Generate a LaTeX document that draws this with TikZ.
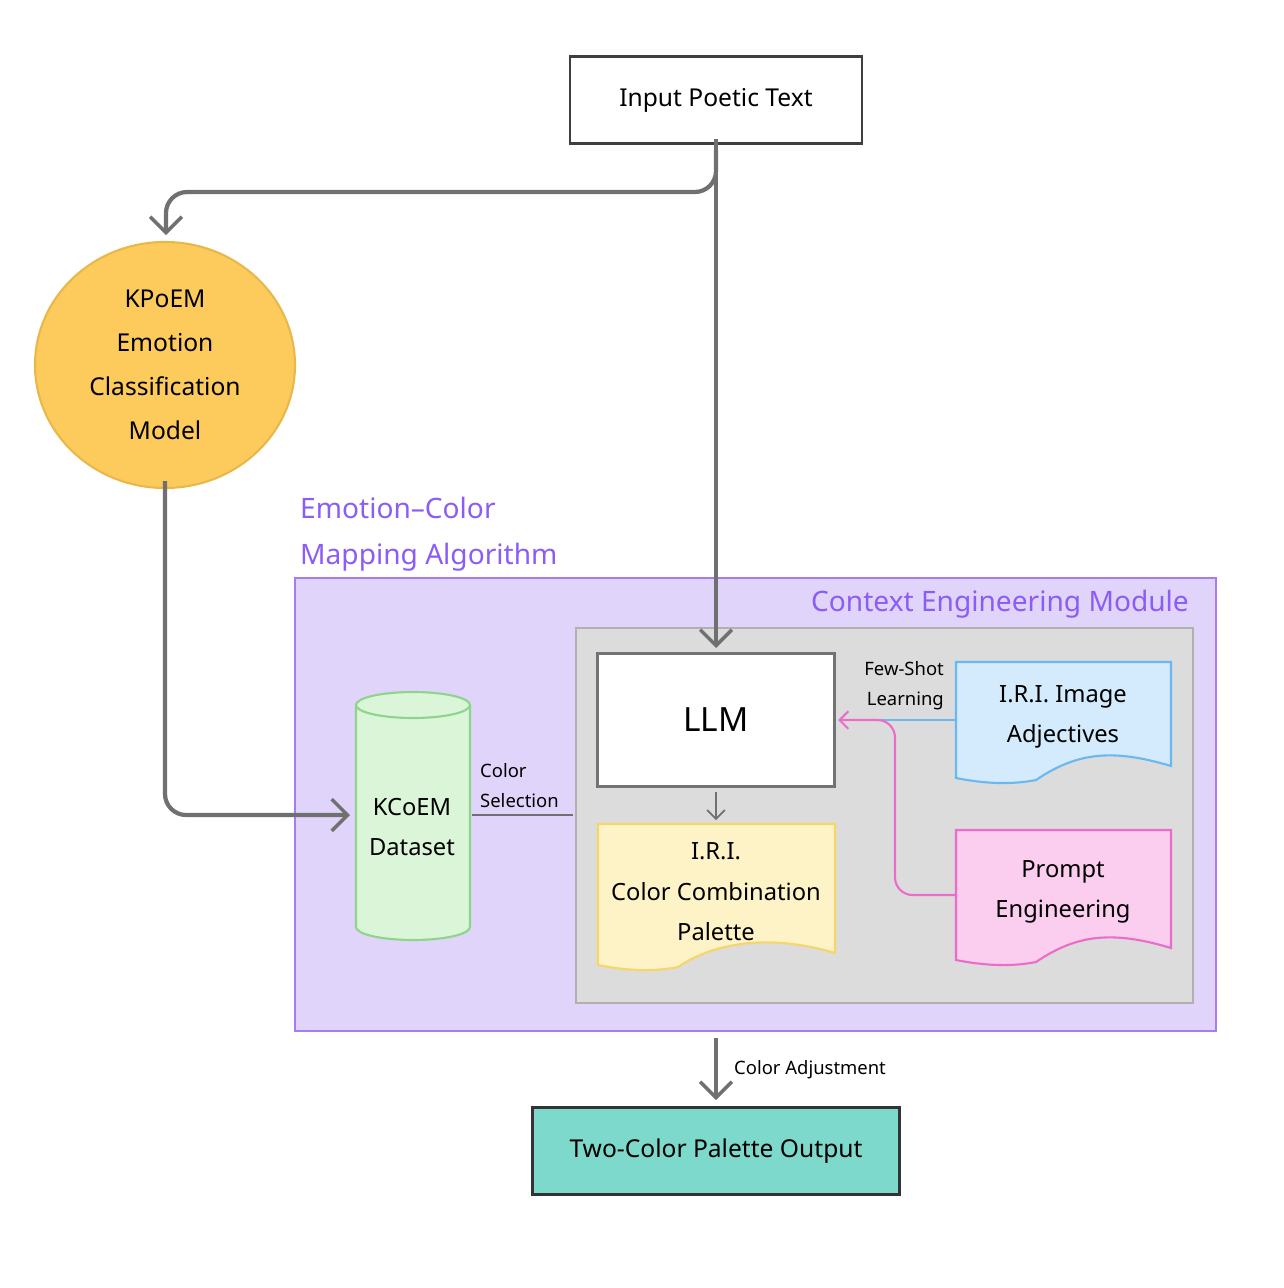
\documentclass[tikz,border=0pt]{standalone}
\usepackage{fontspec}
\setmainfont{Noto Sans}
\usetikzlibrary{arrows.meta,positioning,shapes.geometric}
\definecolor{purp}{HTML}{8B5CF6}
\definecolor{purpfill}{HTML}{E0D4FB}
\definecolor{purpline}{HTML}{A67CF0}
\definecolor{graybox}{HTML}{DCDCDC}
\definecolor{grayline}{HTML}{B0B0B0}
\definecolor{conn}{HTML}{707070}
\definecolor{yel}{HTML}{FDCB5C}
\definecolor{yelline}{HTML}{E8B84A}
\definecolor{palfill}{HTML}{FEF3C6}
\definecolor{palline}{HTML}{F5D66B}
\definecolor{bluefill}{HTML}{D3EBFD}
\definecolor{blueline}{HTML}{6BB8F0}
\definecolor{pinkfill}{HTML}{FBCDEF}
\definecolor{pinkline}{HTML}{EC6DC9}
\definecolor{grnfill}{HTML}{DAF5D8}
\definecolor{grnline}{HTML}{8FD48B}
\definecolor{teal}{HTML}{7DD9CB}
\tikzset{
  box/.style={draw=#1,line width=1.2pt,align=center},
  conline/.style={draw=conn,line width=2.4pt,rounded corners=12pt},
  bigarrow/.style={-{Straight Barb[length=9pt,width=18pt,line width=2pt]}},
  maintext/.style={font=\fontsize{14}{24}\selectfont,align=center},
  smalltext/.style={font=\fontsize{10.5}{16}\selectfont},
  titletext/.style={font=\fontsize{16}{26}\selectfont\bfseries,text=purp},
}
\newcommand\wavydoc[5]{% x1,y1,x2,y2,name
  \path[fill=#5fill,draw=#5line,line width=1.2pt]
   (#1,#2) -- (#3,#2) -- (#3,#4-12)
   .. controls (#3-60,#4-30) and (#1+120,#4-25) .. (#1+80,#4+2)
   .. controls (#1+50,#4+8) and (#1+20,#4+4) .. (#1,#4) -- cycle;}
\begin{document}
\begin{tikzpicture}[x=0.02cm,y=-0.02cm]
\useasboundingbox (0,0) rectangle (1284,1288);
% outer
\draw[fill=purpfill,draw=purpline,line width=1.2pt] (295,578) rectangle (1216,1031);
\node[titletext,anchor=west,align=left] (title) at (294,534) {Emotion–Color\\Mapping Algorithm};
\node[titletext,anchor=east] (cem) at (1195,604) {Context Engineering Module};
\draw[fill=graybox,draw=grayline,line width=1.2pt] (576,628) rectangle (1193,1003);
% input
\node[box=black!75,fill=white,minimum width=292*0.02cm,minimum height=87*0.02cm,maintext] (input) at (716,100) {Input Poetic Text};
% KPoEM
\node[draw=yelline,fill=yel,ellipse,line width=1.2pt,minimum width=260*0.02cm,minimum height=246*0.02cm,maintext,font=\fontsize{14}{25}\selectfont] (kpoem) at (165,365) {KPoEM\\Emotion\\Classification\\Model};
% LLM
\node[box=black!55,fill=white,minimum width=237*0.02cm,minimum height=133*0.02cm,font=\fontsize{19}{24}\selectfont] (llm) at (716,720) {LLM};
% docs
\wavydoc{598}{824}{835}{965}{pal}
\node[maintext,font=\fontsize{13.5}{23}\selectfont] (palt) at (716,892) {I.R.I.\\Color Combination\\Palette};
\wavydoc{956}{662}{1171}{778}{blue}
\node[maintext,font=\fontsize{13.5}{23}\selectfont] (adj) at (1063,717) {I.R.I. Image\\Adjectives};
\wavydoc{956}{830}{1171}{960}{pink}
\node[maintext,font=\fontsize{13.5}{23}\selectfont] (pe) at (1063,892) {Prompt\\Engineering};
% cylinder
\draw[fill=grnfill,draw=grnline,line width=1.2pt] (356,705) -- (356,927) arc[start angle=180,end angle=360,x radius=57,y radius=-13] -- (470,705);
\draw[fill=grnfill,draw=grnline,line width=1.2pt] (413,705) ellipse[x radius=57,y radius=-13];
\node[maintext,font=\fontsize{13.5}{23}\selectfont] (kcoem) at (412,827) {KCoEM\\Dataset};
\coordinate (cylleft) at (350,815);
\coordinate (cylright) at (472,815);
% output
\node[box=black!80,fill=teal,minimum width=367*0.02cm,minimum height=87*0.02cm,maintext] (out) at (716,1151) {Two-Color Palette Output};
% connectors
\draw[conline,bigarrow] (input.south) ++(0,-6) -- (716,648);
\draw[conline,bigarrow] (716,150) -- (716,192) -- (166,192) -- (166,235);
\draw[conline,bigarrow] (kpoem.south) ++(0,-8) -- (165,815) -- (cylleft);
\draw[conn,line width=1.2pt] (cylright) -- (573,815);
\node[smalltext,anchor=west,align=left,font=\fontsize{10.5}{17}\selectfont] (cs) at (474,786) {Color\\Selection};
\draw[conn,line width=1pt,-{Straight Barb[length=5pt,width=10pt]}] (716,792) -- (716,820);
\draw[blueline,line width=1.2pt] (956,720) -- (850,720);
\draw[pinkline,line width=1.2pt,rounded corners=10pt,-{Straight Barb[length=5pt,width=10pt]}] (956,895) -- (895,895) -- (895,720) -- (838,720);
\node[smalltext,anchor=east,align=right,font=\fontsize{10.5}{17}\selectfont] (fs) at (950,686) {Few-Shot\\Learning};
\draw[conline,bigarrow] (716,1038) -- (716,1100);
\node[smalltext,anchor=west] (ca) at (728,1070) {Color Adjustment};
\end{tikzpicture}
\end{document}
